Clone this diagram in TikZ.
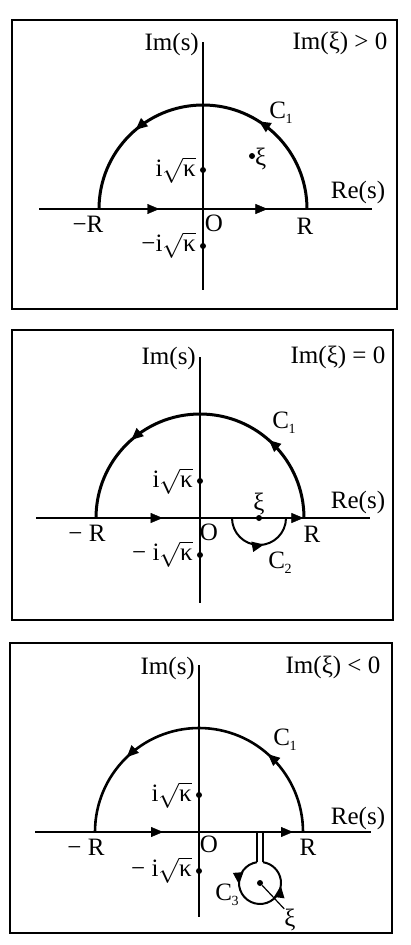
\documentclass[tikz,border=0pt]{standalone}
\usepackage{fontspec}
\setmainfont{Liberation Serif}
\usetikzlibrary{arrows.meta,decorations.markings}
\newcommand\skap{i$\sqrt{\hbox{κ}}$}
\newcommand\csub[2]{#1\kern-0.5pt\raisebox{-0.45ex}{\fontsize{14}{15}\selectfont #2}}
\tikzset{
  axisline/.style={line width=1.6pt},
  contour/.style={line width=3pt},
  frameline/.style={line width=1.5pt},
  lbl/.style={inner sep=0pt, font=\fontsize{25}{29}\selectfont},
  dotnode/.style={circle, fill, inner sep=0pt, minimum size=6pt},
  twoarr/.style 2 args={postaction={decorate},decoration={markings,
     mark=at position #1 with {\arrow{Triangle[length=12pt,width=10pt]}},
     mark=at position #2 with {\arrow{Triangle[length=12pt,width=10pt]}}}},
  onearr/.style={postaction={decorate},decoration={markings,
     mark=at position #1 with {\arrow{Triangle[length=12pt,width=10pt]}}}}
}
\begin{document}
\begin{tikzpicture}[x=1pt,y=1pt]
\useasboundingbox (0,0) rectangle (411,-945);
%================ Panel 1
\begin{scope}[shift={(203,-209)}]
  \draw[frameline] (-191,189) rectangle (194,-100);
  \coordinate (l1) at (-164,0); \coordinate (r1) at (169,0);
  \coordinate (t1) at (0,167); \coordinate (b1) at (0,-81);
  \draw[axisline] (l1) -- (r1);
  \draw[axisline] (t1) -- (b1);
  \coordinate (mR1) at (-104,0); \coordinate (pR1) at (104,0);
  \path[twoarr={0.29}{0.81}] (mR1) -- (pR1);
  \draw[contour, twoarr={0.32}{0.725}] (pR1) arc[start angle=0, end angle=180, radius=104];
  \node[dotnode] (k1) at (0,39) {};
  \node[dotnode] (mk1) at (0,-37) {};
  \node[dotnode] (x1) at (49,53) {};
  \node[lbl, anchor=west] (xl1) at (52,50) {ξ};
  \node[lbl, anchor=east] (kl1) at (-7,39) {\skap};
  \node[lbl, anchor=east] (mkl1) at (-7,-36) {−\skap};
  \node[lbl, anchor=east] (im1) at (-4,165) {Im(s)};
  \node[lbl] (cond1) at (137,166) {Im(ξ) > 0};
  \node[lbl] (c1a) at (78,96) {\csub{C}{1}};
  \node[lbl] (re1) at (155,17) {Re(s)};
  \node[lbl] (mr1) at (-115,-15) {−R};
  \node[lbl] (or1) at (11,-14) {O};
  \node[lbl] (rr1) at (102,-17) {R};
\end{scope}
%================ Panel 2
\begin{scope}[shift={(200,-518)}]
  \draw[frameline] (-188,188) rectangle (193,-102);
  \coordinate (l2) at (-164,0); \coordinate (r2) at (170,0);
  \coordinate (t2) at (0,161); \coordinate (b2) at (0,-85);
  \draw[axisline] (l2) -- (r2);
  \draw[axisline] (t2) -- (b2);
  \coordinate (mR2) at (-104,0); \coordinate (pR2) at (104,0);
  \coordinate (a2) at (32,0); \coordinate (b2s) at (86,0);
  \path[onearr=0.49] (mR2) -- (a2);
  \path[onearr=0.97] (b2s) -- (pR2);
  \draw[contour, twoarr={0.27}{0.73}] (pR2) arc[start angle=0, end angle=180, radius=104];
  \draw[line width=2pt, onearr=0.56] (a2) arc[start angle=180, end angle=360, radius=27];
  \node[dotnode] (k2) at (0,37) {};
  \node[dotnode] (mk2) at (0,-37) {};
  \node[dotnode] (x2) at (59,0) {};
  \node[lbl] (xl2) at (59,14) {ξ};
  \node[lbl, anchor=east] (kl2) at (-7,37) {\skap};
  \node[lbl, anchor=east] (mkl2) at (-7,-36) {− \skap};
  \node[lbl, anchor=east] (im2) at (-4,160) {Im(s)};
  \node[lbl] (cond2) at (138,161) {Im(ξ) = 0};
  \node[lbl] (c1b) at (84,95) {\csub{C}{1}};
  \node[lbl] (re2) at (158,16) {Re(s)};
  \node[lbl] (mr2) at (-113,-15) {− R};
  \node[lbl] (or2) at (9,-14) {O};
  \node[lbl] (rr2) at (112,-16) {R};
  \node[lbl] (c2) at (80,-45) {\csub{C}{2}};
\end{scope}
%================ Panel 3
\begin{scope}[shift={(199,-832)}]
  \draw[frameline] (-189,189) rectangle (193,-101);
  \coordinate (l3) at (-164,0); \coordinate (r3) at (172,0);
  \coordinate (t3) at (0,167); \coordinate (b3) at (0,-85);
  \draw[axisline] (l3) -- (r3);
  \draw[axisline] (t3) -- (b3);
  \coordinate (mR3) at (-104,0); \coordinate (pR3) at (104,0);
  \coordinate (a3) at (58,0); \coordinate (b3s) at (64,0);
  \coordinate (a3d) at (58,-30.2); \coordinate (b3d) at (64,-30.2);
  \path[onearr=0.42] (mR3) -- (a3);
  \path[onearr=0.75] (b3s) -- (pR3);
  \draw[contour, line width=2.6pt, twoarr={0.27}{0.745}] (pR3) arc[start angle=0, end angle=180, radius=104];
  \draw[line width=1.7pt] (a3) -- (a3d);
  \draw[line width=1.7pt] (b3s) -- (b3d);
  \draw[line width=2pt, twoarr={0.25}{0.74}] (a3d) arc[start angle=98.2, end angle=441.8, radius=21];
  \node[dotnode] (k3) at (0,37) {};
  \node[dotnode] (mk3) at (0,-39) {};
  \node[dotnode] (x3) at (61,-51) {};
  \node[lbl] (xl3) at (91,-88) {ξ};
  \draw[line width=1.2pt] (xl3.north west) -- (x3);
  \node[lbl] (c3) at (28,-63) {\csub{C}{3}};
  \node[lbl, anchor=east] (kl3) at (-7,37) {\skap};
  \node[lbl, anchor=east] (mkl3) at (-7,-38) {− \skap};
  \node[lbl, anchor=east] (im3) at (-4,164) {Im(s)};
  \node[lbl] (cond3) at (134,165) {Im(ξ) < 0};
  \node[lbl] (c1c) at (86,92) {\csub{C}{1}};
  \node[lbl] (re3) at (159,14) {Re(s)};
  \node[lbl] (mr3) at (-113,-15) {− R};
  \node[lbl] (or3) at (10,-12) {O};
  \node[lbl] (rr3) at (109,-15) {R};
\end{scope}
\end{tikzpicture}
\end{document}
